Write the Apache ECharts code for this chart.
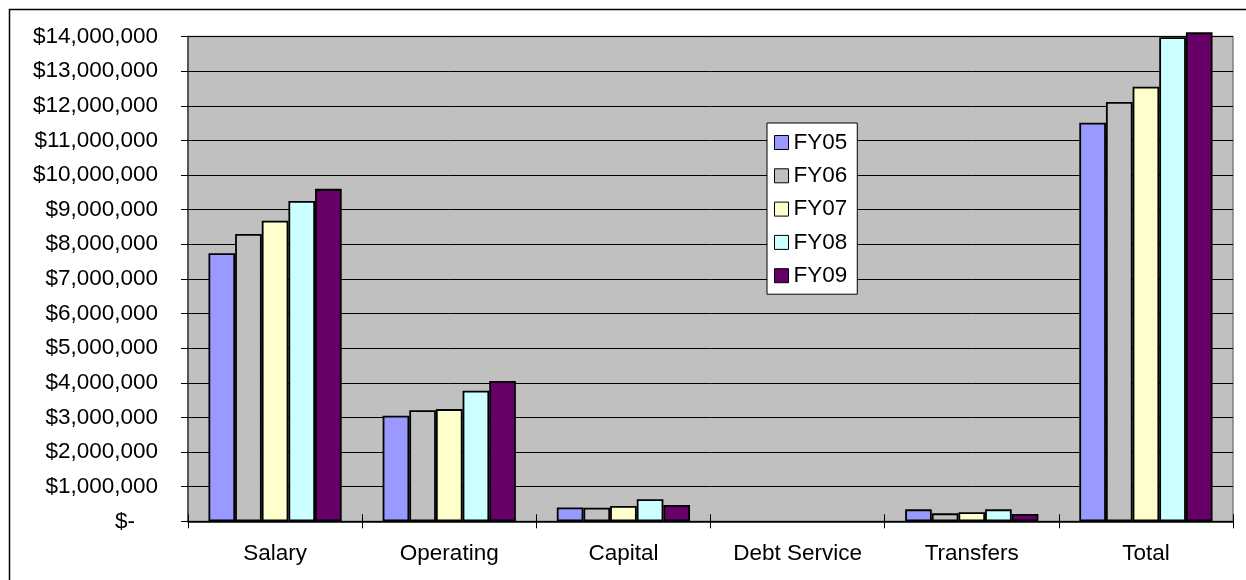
<!DOCTYPE html>
<html>
<head>
<meta charset="utf-8">
<script src="https://cdn.jsdelivr.net/npm/echarts@6/dist/echarts.min.js"></script>
<style>
html,body{margin:0;padding:0;background:#fff;}
#chart{width:1246px;height:580px;}
</style>
</head>
<body>
<div id="chart"></div>
<script>
const categories = ['Salary', 'Operating', 'Capital', 'Debt Service', 'Transfers', 'Total'];
const seriesNames = ['FY05', 'FY06', 'FY07', 'FY08', 'FY09'];
const fy05 = [7740000, 3050000, 400000, 0, 345000, 11510000];
const fy06 = [8300000, 3210000, 390000, 0, 230000, 12110000];
const fy07 = [8680000, 3240000, 440000, 0, 260000, 12550000];
const fy08 = [9250000, 3770000, 640000, 0, 345000, 13980000];
const fy09 = [9600000, 4050000, 470000, 0, 210000, 14120000];
const seriesValues = [fy05, fy06, fy07, fy08, fy09];
const colors = ['#9999FF', '#C0C0C0', '#FFFFCC', '#CCFFFF', '#660066'];

const FONT = '"Liberation Sans", Arial, sans-serif';
const FS = 22.5;
const chart = echarts.init(document.getElementById('chart'), null, {renderer: 'canvas'});

const option = {
  animation: false,
  backgroundColor: '#ffffff',
  textStyle: {fontFamily: FONT, color: '#000'},
  graphic: [{
    type: 'rect', left: 7, top: 7, z: 100,
    shape: {x: 0, y: 0, width: 1260, height: 600},
    style: {fill: 'none', stroke: '#000', lineWidth: 1.5}
  }],
  grid: {
    left: 188, right: 13, top: 36.5, bottom: 58.7,
    show: true, backgroundColor: '#C0C0C0', borderColor: '#808080', borderWidth: 1.5
  },
  legend: {
    orient: 'vertical', left: 767, top: 123,
    backgroundColor: '#ffffff', borderColor: '#000', borderWidth: 1,
    padding: [8, 10, 7, 7], itemGap: 10.3, itemWidth: 14, itemHeight: 14,
    icon: 'rect',
    itemStyle: {borderColor: '#000', borderWidth: 1},
    textStyle: {fontFamily: FONT, fontSize: FS, color: '#000'},
    data: seriesNames
  },
  xAxis: [{
    type: 'category', data: categories, gridIndex: 0,
    axisLine: {show: true, lineStyle: {color: '#000', width: 1.5}},
    axisTick: {show: true, alignWithLabel: false, length: 7, lineStyle: {color: '#000', width: 1}},
    axisLabel: {fontFamily: FONT, fontSize: FS, color: '#000', margin: 21},
    splitLine: {show: false}
  }, {
    type: 'category', data: categories, gridIndex: 0, position: 'bottom',
    axisLine: {show: false},
    axisTick: {show: true, inside: true, length: 7, lineStyle: {color: '#000', width: 1}},
    axisLabel: {show: false},
    splitLine: {show: false}
  }],
  yAxis: {
    type: 'value', min: 0, max: 14000000, interval: 1000000,
    axisLine: {show: true, lineStyle: {color: '#404040', width: 1.5}},
    axisTick: {show: true, length: 7, lineStyle: {color: '#000', width: 1}},
    axisLabel: {
      fontFamily: FONT, fontSize: FS, color: '#000', margin: 30,
      formatter: function (v) {
        if (v === 0) return '{z|$-}';
        return '$' + v.toLocaleString('en-US');
      },
      rich: {z: {fontFamily: FONT, fontSize: FS, color: '#000', padding: [0, 23, 0, 0]}}
    },
    splitLine: {show: true, lineStyle: {color: '#000', width: 1}}
  },
  series: seriesNames.map(function (name, i) {
    return {
      name: name, type: 'bar', xAxisIndex: 0,
      data: seriesValues[i].map(function (v) {
        return v === 0 ? {value: v, itemStyle: {borderWidth: 0}} : v;
      }),
      barGap: '0%', barCategoryGap: '23.5%', clip: false,
      itemStyle: {color: colors[i], borderColor: '#000', borderWidth: 1.8}
    };
  })
};
chart.setOption(option);
</script>
</body>
</html>
